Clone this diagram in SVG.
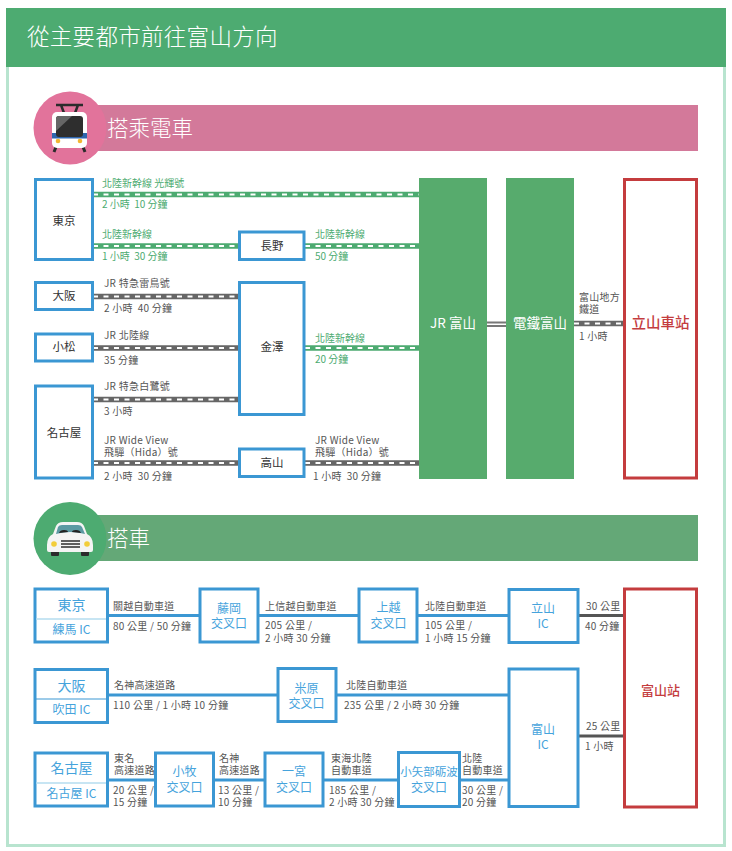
<svg xmlns="http://www.w3.org/2000/svg" width="732" height="851" viewBox="0 0 732 851">
<style>
text{font-family:"Noto Sans CJK TC","Noto Sans",sans-serif;white-space:pre}
.g{font-size:10px;fill:#4dab71}
.k{font-size:10px;fill:#555;letter-spacing:.25px}
.n{font-size:11.500px;fill:#333;text-anchor:middle}
.w{font-size:13.500px;fill:#fff;text-anchor:middle}
.b{font-size:12px;fill:#45a3dc;text-anchor:middle}
.bl{font-size:14px;fill:#45a3dc;text-anchor:middle}
.box{fill:#fff;stroke:#3b97d3;stroke-width:3}
.red{fill:#fff;stroke:#c43c3e;stroke-width:3}
.gb{fill:#57ab6d}
.gl{stroke:#4dab71;stroke-width:5.500;fill:none}
.kl{stroke:#666;stroke-width:5.500;fill:none}
.d{stroke:#fff;stroke-width:2;stroke-dasharray:5 5.500;fill:none}
.bw{stroke:#3b97d3;stroke-width:3;fill:none}
.dk{stroke:#555;stroke-width:3;fill:none}
.sep{stroke:#b5dcef;stroke-width:1.500}
</style>
<rect width="732" height="851" fill="#fff"/>
<rect x="7.500" y="60" width="717" height="785.500" fill="#fff" stroke="#b8e4cf" stroke-width="3"/>
<g id="header"><rect x="6" y="8" width="720" height="59" fill="#4dab71"/>
<text x="27" y="45" font-size="22.500" font-weight="300" letter-spacing="0.300" fill="#fff">從主要都市前往富山方向</text></g>

<g id="section-train">
<rect x="90" y="105" width="608" height="46" fill="#d3799a"/>
<circle cx="70" cy="128" r="36.500" fill="#e2739b"/>
<g id="train-icon">
<path d="M56 105H83M61 105L64 113M78 105L75 113" stroke="#2b2b2b" stroke-width="2.500" fill="none"/>
<path d="M56 147L54 152M83 147L85 152" stroke="#2b2b2b" stroke-width="3" fill="none"/>
<rect x="52" y="112" width="35" height="36" rx="5" fill="#fff"/>
<rect x="52" y="133" width="35" height="5.500" fill="#2f66ad"/>
<rect x="56" y="116" width="27" height="21" rx="3" fill="#2e2e2e"/>
<path d="M56 131V119Q56 116 59 116H72Z" fill="#666"/>
<circle cx="58" cy="141" r="2.300" fill="#f2b632"/><circle cx="80" cy="141" r="2.300" fill="#f2b632"/>
</g>
<text x="107" y="136" font-size="21.500" font-weight="300" fill="#fff">搭乘電車</text>
</g>

<g id="connectors">
<path class="gl" d="M93 194.500H419M93 246H238M305 246H419M305 348H419"/>
<path class="d" d="M93 194.500H419M93 246H238M305 246H419M305 348H419"/>
<path class="kl" d="M93 296.500H238M93 348H238M93 399.500H238M93 463H238M305 463H419M574 323.500H623"/>
<path class="d" d="M93 296.500H238M93 348H238M93 399.500H238M93 463H238M305 463H419M574 323.500H623"/>
<path d="M487 322.500H506M487 326H506" stroke="#777" stroke-width="2" fill="none"/>
<path class="bw" d="M108 615.500H199M258 615.500H358M417 615.500H508M108 695H277M336 695H508M108 780H155M214 780H264M323 780H398M460 780H508"/>
<path class="dk" d="M578 615.500H623M578 736H623"/>
</g>

<g id="rail-labels">
<text class="g" x="102" y="187">北陸新幹線 光輝號</text><text class="g" x="102" y="208">2 小時  10 分鐘</text>
<text class="g" x="102" y="238">北陸新幹線</text><text class="g" x="102" y="260">1 小時  30 分鐘</text>
<text class="g" x="315" y="238">北陸新幹線</text><text class="g" x="315" y="260">50 分鐘</text>
<text class="g" x="315" y="342">北陸新幹線</text><text class="g" x="315" y="363">20 分鐘</text>
<text class="k" x="104" y="287">JR 特急雷鳥號</text><text class="k" x="104" y="312">2 小時  40 分鐘</text>
<text class="k" x="104" y="339">JR 北陸線</text><text class="k" x="104" y="364">35 分鐘</text>
<text class="k" x="104" y="390">JR 特急白鷺號</text><text class="k" x="104" y="415">3 小時</text>
<text class="k" x="104" y="444">JR Wide View</text><text class="k" x="104" y="456">飛驒（Hida）號</text><text class="k" x="104" y="480">2 小時  30 分鐘</text>
<text class="k" x="315" y="444">JR Wide View</text><text class="k" x="315" y="456">飛驒（Hida）號</text><text class="k" x="313" y="480">1 小時  30 分鐘</text>
<text class="k" x="579" y="301">富山地方</text><text class="k" x="579" y="313">鐵道</text><text class="k" x="579" y="340">1 小時</text>
</g>

<g id="tokyo"><rect class="box" x="35.500" y="179.500" width="57" height="80"/><text class="n" x="64" y="225">東京</text></g>
<g id="nagano"><rect class="box" x="239.500" y="232" width="64.500" height="27.500"/><text class="n" x="272" y="250">長野</text></g>
<g id="osaka"><rect class="box" x="35.500" y="282.500" width="57" height="27"/><text class="n" x="64" y="300">大阪</text></g>
<g id="komatsu"><rect class="box" x="35.500" y="334" width="57" height="27"/><text class="n" x="64" y="351">小松</text></g>
<g id="nagoya"><rect class="box" x="35.500" y="386" width="57" height="92"/><text class="n" x="64" y="437">名古屋</text></g>
<g id="kanazawa"><rect class="box" x="239.500" y="282.500" width="64.500" height="132"/><text class="n" x="272" y="351">金澤</text></g>
<g id="takayama"><rect class="box" x="239.500" y="449" width="64.500" height="27.500"/><text class="n" x="272" y="467">高山</text></g>
<g id="jr-toyama"><rect class="gb" x="419" y="178" width="68" height="301"/><text class="w" x="453" y="328">JR 富山</text></g>
<g id="dentetsu-toyama"><rect class="gb" x="506" y="178" width="68" height="301"/><text class="w" x="540" y="328">電鐵富山</text></g>
<g id="tateyama"><rect class="red" x="624.500" y="179.500" width="72" height="298.500"/><text x="660.500" y="327.500" font-size="14.500" font-weight="500" fill="#c43c3e" text-anchor="middle">立山車站</text></g>

<g id="section-car">
<rect x="90" y="515" width="608" height="46" fill="#64a877"/>
<circle cx="70" cy="538.500" r="36.500" fill="#4dab71"/>
<g id="car-icon">
<rect x="51" y="548" width="8" height="8" rx="1" fill="#2b2b2b"/><rect x="81" y="548" width="8" height="8" rx="1" fill="#2b2b2b"/>
<path d="M47 545Q47 537 53 534L56 526Q58 522 63 522H77Q82 522 84 526L87 534Q93 537 93 545V550Q93 552 91 552H49Q47 552 47 550Z" fill="#f4f4f4"/>
<path d="M56 534L58 527Q59 525 62 525H78Q81 525 82 527L85 534Q70 530 56 534Z" fill="#5c9aa3"/>
<path d="M59 533Q60 530 64 530Q68 530 68 532ZM72 532Q72 530 76 530Q80 530 81 533Z" fill="#222"/>
<circle cx="54" cy="544" r="2.800" fill="#f2cd3a"/><circle cx="87" cy="544" r="2.800" fill="#f2cd3a"/>
<path d="M61 541H80M61 544H80M61 547H80" stroke="#2b2b2b" stroke-width="1.300"/>
</g>
<text x="107" y="546" font-size="21.500" font-weight="300" fill="#fff">搭車</text>
</g>

<g id="road-labels">
<text class="k" x="113" y="610">關越自動車道</text><text class="k" x="113" y="630">80 公里 / 50 分鐘</text>
<text class="k" x="265" y="610">上信越自動車道</text><text class="k" x="265" y="629">205 公里 /</text><text class="k" x="265" y="642">2 小時 30 分鐘</text>
<text class="k" x="425" y="610">北陸自動車道</text><text class="k" x="425" y="629">105 公里 /</text><text class="k" x="425" y="641.500">1 小時 15 分鐘</text>
<text class="k" x="586" y="610">30 公里</text><text class="k" x="585" y="630">40 分鐘</text>
<text class="k" x="114" y="689">名神高速道路</text><text class="k" x="113" y="709">110 公里 / 1 小時 10 分鐘</text>
<text class="k" x="346" y="689">北陸自動車道</text><text class="k" x="344" y="709">235 公里 / 2 小時 30 分鐘</text>
<text class="k" x="586" y="730">25 公里</text><text class="k" x="585" y="750">1 小時</text>
<text class="k" x="114" y="762">東名</text><text class="k" x="114" y="774">高速道路</text><text class="k" x="113" y="793.500">20 公里 /</text><text class="k" x="113" y="806">15 分鐘</text>
<text class="k" x="219" y="762">名神</text><text class="k" x="219" y="774">高速道路</text><text class="k" x="218" y="793.500">13 公里 /</text><text class="k" x="218" y="806">10 分鐘</text>
<text class="k" x="331" y="762">東海北陸</text><text class="k" x="331" y="774">自動車道</text><text class="k" x="329" y="793.500">185 公里 /</text><text class="k" x="329" y="806">2 小時 30 分鐘</text>
<text class="k" x="462" y="762">北陸</text><text class="k" x="462" y="774">自動車道</text><text class="k" x="462" y="793.500">30 公里 /</text><text class="k" x="462" y="806">20 分鐘</text>
</g>

<g id="tokyo-ic"><rect class="box" x="35" y="589" width="72.500" height="53"/><path class="sep" d="M36 619H106"/><text class="bl" x="71.500" y="610">東京</text><text class="b" x="71.500" y="634">練馬 IC</text></g>
<g id="fujioka"><rect class="box" x="200" y="589" width="58" height="53"/><text class="b" x="229" y="613">藤岡</text><text class="b" x="229" y="628">交叉口</text></g>
<g id="joetsu"><rect class="box" x="359" y="589" width="58" height="53"/><text class="b" x="388.500" y="612">上越</text><text class="b" x="388.500" y="628">交叉口</text></g>
<g id="tateyama-ic"><rect class="box" x="509" y="589.500" width="69" height="53"/><text class="b" x="543" y="613">立山</text><text class="b" x="543" y="628">IC</text></g>
<g id="toyama-station"><rect class="red" x="624.500" y="589" width="72" height="218"/><text x="660.500" y="695" font-size="13" font-weight="500" fill="#c43c3e" text-anchor="middle">富山站</text></g>
<g id="osaka-ic"><rect class="box" x="35" y="669.500" width="72.500" height="53"/><path d="M36 699H106" stroke="#3b97d3" stroke-width="1"/><text class="bl" x="71.500" y="691">大阪</text><text class="b" x="71.500" y="714">吹田 IC</text></g>
<g id="maibara"><rect class="box" x="278" y="668.500" width="58" height="53"/><text class="b" x="306.500" y="693">米原</text><text class="b" x="306.500" y="708">交叉口</text></g>
<g id="toyama-ic"><rect class="box" x="509" y="669" width="69" height="137.500"/><text class="b" x="543" y="734">富山</text><text class="b" x="543" y="749">IC</text></g>
<g id="nagoya-ic"><rect class="box" x="35" y="753" width="72.500" height="53"/><path class="sep" d="M36 783H106"/><text class="bl" x="71.500" y="773">名古屋</text><text class="b" x="71.500" y="798">名古屋 IC</text></g>
<g id="komaki"><rect class="box" x="155.500" y="753" width="58" height="53"/><text class="b" x="184.500" y="776">小牧</text><text class="b" x="184.500" y="792">交叉口</text></g>
<g id="ichinomiya"><rect class="box" x="265" y="753" width="58" height="53"/><text class="b" x="294" y="776">一宮</text><text class="b" x="294" y="792">交叉口</text></g>
<g id="oyabe-tonami"><rect class="box" x="398.500" y="752.500" width="61" height="54"/><text class="b" x="429" y="776" style="font-size:11.500px">小矢部砺波</text><text class="b" x="429" y="792">交叉口</text></g>
</svg>
